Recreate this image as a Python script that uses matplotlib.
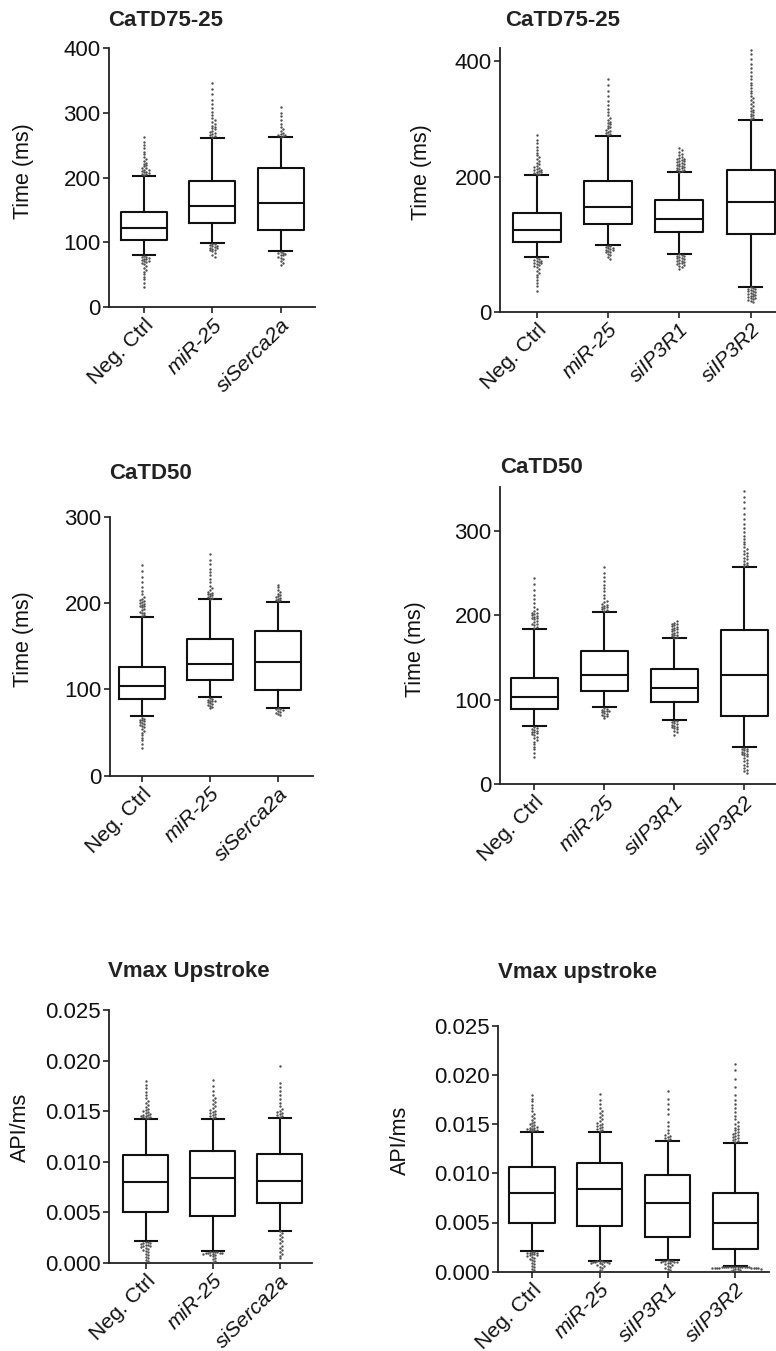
import numpy as np
import matplotlib
matplotlib.use("Agg")
import matplotlib.pyplot as plt
from matplotlib.transforms import ScaledTranslation

plt.rcParams['font.family'] = ['Liberation Sans', 'DejaVu Sans']

W, H = 776, 1351

groups_left = ["Neg. Ctrl", "miR-25", "siSerca2a"]
groups_right = ["Neg. Ctrl", "miR-25", "siIP3R1", "siIP3R2"]

# box stats per group: q1, median, q3, whisker low, whisker high
d7525_neg = [104, 122, 147, 81, 203]
d7525_mir = [130.5, 155.5, 194, 99.5, 261]
d7525_serca = [119, 160.7, 215, 86.8, 262]
d7525_ip3r1 = [117.6, 137, 166.3, 85.9, 207]
d7525_ip3r2 = [115.2, 162.6, 210.2, 37.2, 284]

d50_neg = [88.3, 103.4, 125.8, 68.6, 183.7]
d50_mir = [110.6, 129.6, 158, 91.5, 204.2]
d50_serca = [99, 131.4, 167.8, 78.9, 201]
d50_ip3r1 = [97.2, 114.2, 135.6, 76.3, 172.7]
d50_ip3r2 = [81, 129.6, 181.8, 44.3, 256.5]

# Vmax in 1e-3 API/ms
vm_neg = [4.98, 8.0, 10.63, 2.11, 14.24]
vm_mir = [4.66, 8.42, 11.08, 1.13, 14.24]
vm_serca = [5.87, 8.11, 10.78, 3.17, 14.31]
vm_ip3r1 = [3.56, 7.01, 9.82, 1.19, 13.31]
vm_ip3r2 = [2.27, 4.98, 8.03, 0.54, 13.08]

# outlier points above / below the whiskers
d7525_neg_hi = [204, 205, 206, 207, 208, 209, 210, 211, 212, 214, 215, 217, 219, 221,
                223, 226, 229, 232, 236, 240, 245, 250, 255, 262]
d7525_neg_lo = [79, 78, 77, 76, 75, 74, 73, 72, 71, 70, 68, 66, 64, 61, 58, 55, 51, 47, 43, 38, 31]
d7525_mir_hi = [263, 264, 266, 267, 268, 270, 272, 274, 276, 278, 280, 282, 285, 288,
                292, 296, 301, 307, 313, 320, 328, 336, 345]
d7525_mir_lo = [98, 97, 96, 95, 94, 93, 92, 91, 90, 89, 88, 86, 84, 81, 78]
d7525_serca_hi = [263, 264, 265, 266, 267, 269, 271, 274, 278, 283, 288, 294, 300, 308]
d7525_serca_lo = [85, 84, 83, 82, 81, 80, 78, 76, 74, 71, 68, 65]
d7525_ip3r1_hi = [208, 209, 210, 211, 212, 213, 214, 215, 216, 217, 218, 219, 220, 221,
                  222, 223, 224, 225, 226, 227, 228, 230, 232, 234, 237, 240, 243]
d7525_ip3r1_lo = [85, 84, 83, 82, 81, 80, 79, 78, 77, 76, 75, 74, 73, 72, 71, 70, 68, 66, 63]
d7525_ip3r2_hi = [286, 288, 290, 292, 294, 296, 298, 300, 302, 305, 308, 311, 314, 317,
                  320, 324, 328, 332, 336, 340, 345, 350, 356, 362, 368, 375, 382, 388, 394]
d7525_ip3r2_lo = [36, 35, 34, 33, 32, 31, 30, 29, 28, 27, 26, 25, 24, 23, 22, 21, 20, 19, 18, 16, 15]

d50_neg_hi = [185, 186, 188, 189, 190, 192, 193, 195, 196, 197, 198, 199, 200, 201, 202,
              203, 205, 207, 210, 214, 219, 224, 230, 237, 244]
d50_neg_lo = [67, 66, 65, 64, 63, 62, 61, 60, 59, 58, 56, 54, 52, 50, 47, 44, 41, 37, 32]
d50_mir_hi = [205, 206, 207, 208, 209, 210, 211, 212, 213, 215, 217, 220, 224, 228, 232,
              236, 240, 245, 250, 257]
d50_mir_lo = [90, 89, 88, 87, 86, 86, 85, 84, 83, 82, 81, 80, 78]
d50_serca_hi = [202, 203, 204, 205, 206, 207, 208, 209, 211, 213, 215, 218, 221]
d50_serca_lo = [78, 77, 77, 76, 75, 74, 73, 72, 70]
d50_ip3r1_hi = [173, 174, 175, 176, 177, 178, 179, 180, 181, 182, 183, 184, 185, 186,
                187, 188, 189, 190, 191, 193]
d50_ip3r1_lo = [75, 74, 73, 72, 71, 70, 69, 68, 67, 66, 65, 63, 61, 58]
d50_ip3r2_hi = [258, 259, 261, 262, 264, 266, 268, 270, 272, 274, 276, 278, 281, 284, 287,
                290, 294, 298, 303, 308, 314, 320, 327, 334, 340, 347]
d50_ip3r2_lo = [43, 42, 41, 40, 39, 38, 37, 36, 35, 34, 33, 31, 29, 27, 25, 23, 21, 19, 17, 15, 13]

vm_neg_hi = [14.3, 14.35, 14.4, 14.45, 14.5, 14.55, 14.6, 14.65, 14.7, 14.8, 14.9, 15.0,
             15.1, 15.25, 15.4, 15.6, 15.8, 16.0, 16.3, 16.6, 16.9, 17.3, 17.6, 18.0]
vm_neg_lo = [2.05, 2.0, 1.95, 1.9, 1.85, 1.8, 1.75, 1.7, 1.65, 1.6, 1.5, 1.4, 1.3, 1.2,
             1.05, 0.9, 0.75, 0.6, 0.45, 0.3, 0.2]
vm_mir_hi = [14.3, 14.4, 14.5, 14.6, 14.7, 14.8, 14.9, 15.0, 15.1, 15.3, 15.5, 15.7,
             15.9, 16.1, 16.3, 16.6, 17.0, 17.5, 18.1]
vm_mir_lo = [1.1, 1.08, 1.05, 1.03, 1.0, 0.97, 0.95, 0.92, 0.9, 0.85, 0.8, 0.72, 0.62,
             0.5, 0.35, 0.2, 0.1]
vm_serca_hi = [14.4, 14.5, 14.6, 14.7, 14.8, 14.9, 15.0, 15.2, 15.5, 15.8, 16.2, 16.6,
               17.0, 17.4, 17.8, 19.5]
vm_serca_lo = [3.1, 2.9, 2.7, 2.5, 2.3, 2.1, 1.9, 1.7, 1.5, 1.3, 1.1, 0.9, 0.7, 0.45]
vm_ip3r1_hi = [13.4, 13.5, 13.6, 13.7, 13.8, 13.9, 14.1, 14.4, 14.8, 15.2, 16.0, 16.5,
               17.0, 17.6, 18.4]
vm_ip3r1_lo = [1.15, 1.12, 1.1, 1.07, 1.05, 1.02, 1.0, 0.95, 0.9, 0.85, 0.78, 0.7, 0.6,
               0.5, 0.4, 0.3, 0.2]
vm_ip3r2_hi = [13.2, 13.3, 13.4, 13.5, 13.6, 13.7, 13.8, 13.9, 14.0, 14.1, 14.2, 14.35,
               14.5, 14.65, 14.8, 15.0, 15.2, 15.5, 15.8, 16.2, 16.6, 17.0, 17.5, 18.0,
               18.8, 19.6, 20.5, 21.1]
vm_ip3r2_lo = [0.52, 0.51, 0.5, 0.5, 0.49, 0.48, 0.48, 0.47, 0.46, 0.46, 0.45, 0.44, 0.43,
               0.42, 0.41, 0.4, 0.39, 0.38, 0.37, 0.35, 0.33, 0.3, 0.27, 0.24, 0.2, 0.16, 0.12]

italic = {"miR-25", "siSerca2a", "siIP3R1", "siIP3R2"}
INK = "#111111"


def swarm_x(ax, x0, vals, d=2.3):
    # simple beeswarm in pixel space, points nearest the whisker placed first
    t = ax.transData
    px_per_x = t.transform((1, 0))[0] - t.transform((0, 0))[0]
    placed = []
    xs = []
    for v in vals:
        y = t.transform((0, v))[1]
        k = 0
        while True:
            off = ((k + 1) // 2) * d * (1 if k % 2 == 1 else -1)
            if all((off - px) ** 2 + (y - py) ** 2 >= d * d for px, py in placed):
                break
            k += 1
        placed.append((off, y))
        xs.append(x0 + off / px_per_x)
    return xs


def panel(fig, px, groups, stats, his, los, xlim, ylim, yticks, yticklabels,
          ylabel, ylab_xy, title, title_xy, scale=1.0):
    l, r, t, b = px
    ax = fig.add_axes([l / W, 1 - b / H, (r - l) / W, (b - t) / H])
    ax.set_xlim(*xlim)
    ax.set_ylim(*ylim)
    bx = []
    for s in stats:
        q1, med, q3, lo, hi = [v * scale for v in s]
        bx.append(dict(q1=q1, med=med, q3=q3, whislo=lo, whishi=hi, fliers=[]))
    pos = list(range(len(groups)))
    lp = dict(color=INK, linewidth=1.5)
    ax.bxp(bx, positions=pos, widths=0.67, capwidths=0.33, showfliers=False,
           boxprops=lp, whiskerprops=lp, capprops=lp,
           medianprops=dict(color=INK, linewidth=1.5), manage_ticks=False)
    for i in pos:
        for vals in (his[i], los[i]):
            v = [x * scale for x in vals]
            ax.scatter(swarm_x(ax, i, v), v, s=3, color="#505050",
                       linewidths=0, zorder=3)
    for side in ("top", "right"):
        ax.spines[side].set_visible(False)
    for side in ("left", "bottom"):
        ax.spines[side].set_linewidth(1.3)
        ax.spines[side].set_color("#222222")
    ax.set_yticks(yticks)
    ax.set_yticklabels(yticklabels)
    ax.set_xticks(pos)
    ax.set_xticklabels(groups, rotation=45, ha="right", rotation_mode="anchor")
    shift = ScaledTranslation(5 / 100, 3 / 100, fig.dpi_scale_trans)
    for lab in ax.get_xticklabels():
        lab.set_transform(lab.get_transform() + shift)
        if lab.get_text() in italic:
            lab.set_fontstyle("italic")
    ax.tick_params(direction="out", length=4, width=1.2, color="#222222",
                   labelsize=16, labelcolor=INK, pad=2)
    ax.tick_params(axis="x", labelsize=15.3)
    ax.set_ylabel(ylabel, fontsize=15.5, color=INK, va="center")
    ax.yaxis.set_label_coords(ylab_xy[0] / W, 1 - ylab_xy[1] / H,
                              transform=fig.transFigure)
    fig.text(title_xy[0] / W, 1 - title_xy[1] / H, title, ha="center",
             va="baseline", fontsize=16, fontweight="bold", color="#222222")
    return ax


fig = plt.figure(figsize=(W / 100, H / 100), dpi=100)

panel(fig, (109, 315, 47.7, 307.3), groups_left,
      [d7525_neg, d7525_mir, d7525_serca],
      [d7525_neg_hi, d7525_mir_hi, d7525_serca_hi],
      [d7525_neg_lo, d7525_mir_lo, d7525_serca_lo],
      (-0.51, 2.5), (0, 400), [0, 100, 200, 300, 400],
      ["0", "100", "200", "300", "400"],
      "Time (ms)", (23, 171), "CaTD75-25", (166, 26))

panel(fig, (500, 776, 48, 311.7), groups_right,
      [d7525_neg, d7525_mir, d7525_ip3r1, d7525_ip3r2],
      [d7525_neg_hi, d7525_mir_hi, d7525_ip3r1_hi, d7525_ip3r2_hi],
      [d7525_neg_lo, d7525_mir_lo, d7525_ip3r1_lo, d7525_ip3r2_lo],
      (-0.515, 3.355), (0, 391.5), [0, 200, 372.7], ["0", "200", "400"],
      "Time (ms)", (422, 172), "CaTD75-25", (562.5, 26))

panel(fig, (110, 312.7, 516.7, 775.7), groups_left,
      [d50_neg, d50_mir, d50_serca],
      [d50_neg_hi, d50_mir_hi, d50_serca_hi],
      [d50_neg_lo, d50_mir_lo, d50_serca_lo],
      (-0.47, 2.51), (0, 300), [0, 100, 200, 300], ["0", "100", "200", "300"],
      "Time (ms)", (23, 639), "CaTD50", (150, 479.3))

panel(fig, (500, 776, 486.7, 784), groups_right,
      [d50_neg, d50_mir, d50_ip3r1, d50_ip3r2],
      [d50_neg_hi, d50_mir_hi, d50_ip3r1_hi, d50_ip3r2_hi],
      [d50_neg_lo, d50_mir_lo, d50_ip3r1_lo, d50_ip3r2_lo],
      (-0.49, 3.45), (0, 352), [0, 100, 200, 300], ["0", "100", "200", "300"],
      "Time (ms)", (415, 649), "CaTD50", (541.7, 473.3))

vticks = [0, 0.005, 0.010, 0.015, 0.020, 0.025]
vlabels = ["%.3f" % v for v in vticks]

panel(fig, (109, 311.7, 1010, 1262.7), groups_left,
      [vm_neg, vm_mir, vm_serca],
      [vm_neg_hi, vm_mir_hi, vm_serca_hi],
      [vm_neg_lo, vm_mir_lo, vm_serca_lo],
      (-0.55, 2.48), (0, 0.025), vticks, vlabels,
      "API/ms", (20, 1127), "Vmax Upstroke", (189, 977.3), scale=1e-3)

panel(fig, (498, 769.3, 1025.7, 1271.7), groups_right,
      [vm_neg, vm_mir, vm_ip3r1, vm_ip3r2],
      [vm_neg_hi, vm_mir_hi, vm_ip3r1_hi, vm_ip3r2_hi],
      [vm_neg_lo, vm_mir_lo, vm_ip3r1_lo, vm_ip3r2_lo],
      (-0.5, 3.5), (0, 0.025), vticks, vlabels,
      "API/ms", (400, 1140), "Vmax upstroke", (577.3, 978), scale=1e-3)

fig.savefig("out.png", dpi=100)
